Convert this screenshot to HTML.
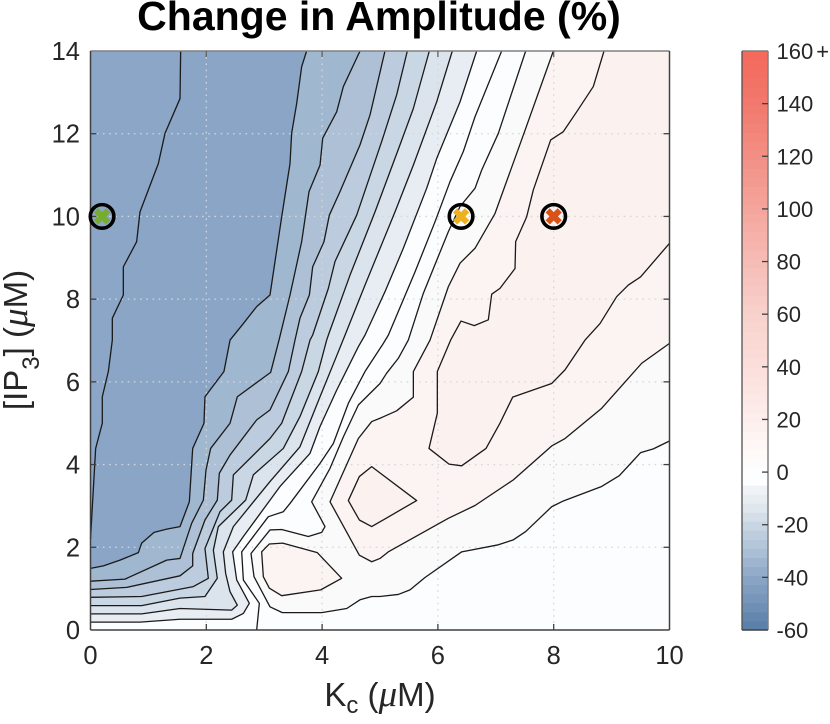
<!DOCTYPE html>
<html lang="en">
<head>
<meta charset="utf-8">
<title>Change in Amplitude (%)</title>
<style>
html,body{margin:0;padding:0;background:#fff;}
svg{display:block;font-family:"Liberation Sans",sans-serif;}
</style>
</head>
<body>
<svg id="chart" xmlns="http://www.w3.org/2000/svg" width="830" height="724" viewBox="0 0 830 724"></svg>
<script>
// Contour levels, each a list of [Kc, IP3] vertices
const levelM40 = [[1.557,14],[1.546,12.85],[1.287,12.01],[1.172,11.28],[0.855,10.11],[0.797,9.39],[0.567,8.78],[0.567,8.10],[0.377,7.54],[0.377,7.01],[0.308,6.25],[0.204,5.64],[0.204,5.00],[0.089,4.39],[0,2.2]];
const levelM35 = [[3.733,14],[3.647,13.62],[3.561,12.73],[3.474,12.01],[3.446,11.28],[3.302,9.99],[3.100,8.10],[2.87,7.82],[2.64,7.41],[2.41,7.01],[2.305,6.25],[1.977,5.64],[1.96,5.00],[1.765,4.39],[1.707,3.10],[1.546,2.50],[1.316,2.44],[1.097,2.36],[0.884,2.10],[0.826,1.87],[0.51,1.69],[0.222,1.55],[0,1.49]];
const levelM30 = [[4.655,14],[4.367,13.14],[4.252,12.53],[4.01,11.89],[3.964,11.24],[3.774,10.60],[3.647,9.39],[3.446,8.10],[3.256,7.01],[3.112,6.23],[2.536,5.64],[2.41,5.00],[2.075,4.39],[1.995,3.87],[1.949,3.14],[1.747,2.58],[1.546,1.73],[1.316,1.69],[0.596,1.23],[0,1.18]];
const levelM25 = [[5.086,14],[4.827,12.45],[4.655,11.73],[4.309,10.60],[4.125,10.03],[4.033,9.39],[3.837,8.78],[3.78,8.10],[3.618,7.54],[3.532,7.01],[3.417,6.25],[3.10,5.32],[2.87,5.08],[2.409,4.23],[2.225,3.79],[2.19,3.14],[1.977,2.66],[1.765,1.85],[1.765,1.55],[1.546,1.31],[0.625,1.03],[0,0.98]];
const levelM20 = [[5.472,14],[5.288,12.94],[5.029,11.81],[4.597,10.03],[4.223,8.91],[4.108,8.26],[3.837,7.13],[3.791,7.01],[3.647,6.25],[3.302,5.00],[3.10,4.63],[2.467,3.75],[2.438,3.14],[2.236,2.86],[1.977,1.97],[2.035,1.25],[1.776,1.05],[0.884,0.81],[0,0.79]];
const levelM15 = [[5.852,14],[5.576,12.61],[5.345,11.73],[4.914,10.11],[4.482,8.58],[4.108,7.13],[4.079,7.01],[3.935,6.25],[3.618,5.16],[3.33,4.39],[2.812,3.75],[2.68,3.14],[2.208,2.50],[2.122,1.93],[2.19,1.25],[1.977,0.81],[1.546,0.77],[0.884,0.59],[0,0.59]];
const levelM10 = [[6.249,14],[5.979,12.77],[5.576,11.24],[5.259,10.11],[4.741,8.34],[4.396,7.13],[4.223,6.53],[3.964,5.64],[3.618,4.43],[3.10,3.59],[2.467,2.50],[2.294,1.89],[2.334,1.37],[2.409,0.93],[2.536,0.60],[2.438,0.48],[1.546,0.52],[0.884,0.39],[0,0.39]];
const levelM5 = [[6.67,14],[6.382,12.77],[5.979,11.40],[5.806,10.68],[5.403,9.23],[5.086,8.18],[4.741,7.13],[4.626,6.85],[4.252,5.80],[3.964,4.92],[3.791,4.27],[3.273,3.47],[2.64,2.26],[2.455,1.89],[2.525,1.21],[2.743,0.645],[2.64,0.40],[2.438,0.26],[1.546,0.26],[0.855,0.19],[0,0.19]];
const level0 = [[7.101,14],[6.641,12.41],[6.439,11.57],[6.209,10.84],[5.95,9.87],[5.605,8.66],[5.144,7.13],[5.058,6.93],[4.741,6.25],[4.453,5.48],[4.194,4.51],[3.964,4.03],[3.446,3.06],[3.33,2.86],[3.071,2.74],[2.611,1.89],[2.64,1.21],[2.916,0.645],[2.87,0]];
const level5 = [[7.516,14],[7.044,12.01],[6.756,11.12],[6.641,10.68],[6.382,10.24],[6.18,9.63],[5.748,8.14],[5.489,7.01],[5.317,6.57],[5.115,6.21],[5.0,5.96],[4.626,5.44],[4.367,4.67],[4.137,3.91],[3.82,3.10],[4.05,2.50],[3.993,2.36],[3.762,2.26],[3.302,2.43],[3.10,2.42],[2.772,1.85],[2.824,1.29],[3.10,0.56],[3.313,0.42],[3.993,0.42],[4.425,0.52],[4.655,0.73],[4.857,0.81],[5.0,0.81],[5.317,0.86],[5.518,0.97],[5.777,1.27],[6.411,1.89],[7.044,2.06],[7.303,2.18],[7.516,2.38],[7.965,2.98],[8.166,3.12],[8.828,3.47],[9.133,3.73],[9.502,4.29],[9.721,4.38],[10,4.57]];
const level10 = [[7.994,14],[7.476,11.97],[6.986,10.07],[6.641,9.23],[6.382,8.87],[6.18,8.30],[5.864,7.01],[5.576,6.25],[5.576,5.63],[5.288,5.30],[5.0,5.12],[4.857,5.04],[4.626,4.63],[4.396,3.91],[4.137,3.10],[4.643,1.81],[4.857,1.65],[5.0,1.73],[5.144,1.89],[6.18,2.70],[6.641,3.01],[7.303,3.63],[7.965,4.45],[8.196,4.63],[8.828,5.36],[9.52,6.45],[10,6.93]];
const level15 = [[8.869,14],[8.684,13.14],[8.397,12.53],[8.166,12.05],[7.948,11.85],[7.648,10.64],[7.533,9.99],[7.343,9.39],[7.332,8.74],[7.072,8.26],[6.929,8.12],[6.871,7.50],[6.629,7.36],[6.399,7.47],[6.22,7.01],[5.99,6.25],[5.99,5.24],[5.846,4.39],[6.192,4.01],[6.41,3.97],[6.831,4.39],[7.072,5.00],[7.291,5.63],[7.965,5.96],[8.195,6.29],[8.541,7.01],[8.80,7.41],[9.087,8.06],[9.289,8.34],[9.502,8.54],[10,9.35]];
const island10 = [[2.956,1.89],[3.089,2.08],[3.319,2.10],[3.918,1.87],[4.338,1.25],[3.975,0.97],[3.302,0.83],[3.089,1.01],[2.985,1.29]];
const island15 = [[4.856,3.95],[5.633,3.13],[4.856,2.50],[4.643,2.66],[4.453,3.13],[4.643,3.71]];

const openLevels = [levelM40, levelM35, levelM30, levelM25, levelM20, levelM15, levelM10, levelM5, level0, level5, level10, level15];
const openLevelNames = ['-40','-35','-30','-25','-20','-15','-10','-5','0','5','10','15'];
const closedLevels = [island10, island15];
const closedLevelNames = ['10-island','15-island'];

// Band colours
const baseBandColor = '#8ba6c6';
const openBandColors = ['#8aa5c5','#a0b7d0','#adc0d6','#bccbdd','#c9d6e4','#dbe3ed','#e8edf3','#fcfdff','#fcfdff','#fafafa','#fcf4f2','#fbf2f0'];
const closedBandColors = ['#fcf4f2','#fbf2f0'];

// Marked parameter points
const markerKc = [0.2, 6.4, 8];
const markerIP3 = [10, 10, 10];
const markerColors = ['#77ac30','#edb120','#d95319'];

// Axis ticks
const xTicks = [0,2,4,6,8,10];
const yTicks = [0,2,4,6,8,10,12,14];
const cbTicks = [-60,-40,-20,0,20,40,60,80,100,120,140,160];
const cbTickLabels = ['-60','-40','-20','0','20','40','60','80','100','120','140','160'];

// Colour map stops
const cmapValues = [-60,-50,-40,-30,-20,-15,-10,-6,-5,0,5,20,40,60,80,100,120,140,160];
const cmapColors = ['#567ca8','#7392b6','#8ba6c6','#adc0d6','#c9d6e3','#dbe3ec','#e8edf2','#f0f3f7','#fdfeff','#fdfeff','#fffbfa','#fdefed','#fbdedb','#f8d2cd','#f6bcb6','#f4a59c','#f38f85','#f2786d','#f4695c'];

const NS = 'http://www.w3.org/2000/svg';
const svg = document.getElementById('chart');
const plot = {left:90.5, right:669.5, top:51, bottom:630};
const bar = {left:742, right:768, top:51, bottom:630};
const xScale = v => plot.left + (v - 0) / 10 * (plot.right - plot.left);
const yScale = v => plot.bottom - (v - 0) / 14 * (plot.bottom - plot.top);
const cbScale = v => bar.bottom - (v + 60) / 220 * (bar.bottom - bar.top);

function make(tag, attrs, parent){
  const el = document.createElementNS(NS, tag);
  for (const k in attrs) el.setAttribute(k, attrs[k]);
  (parent || svg).appendChild(el);
  return el;
}
function pathOf(pts){
  return pts.map((p,i)=>(i?'L':'M')+xScale(p[0]).toFixed(2)+' '+yScale(p[1]).toFixed(2)).join('');
}
function closeToUpperRight(pts){
  const end = pts[pts.length-1];
  const out = pts.slice();
  if (end[0] === 0) out.push([0,0],[10,0],[10,14]);
  else if (end[1] === 0) out.push([10,0],[10,14]);
  else out.push([10,14]);
  return out;
}

// Filled bands
const base = make('rect',{x:plot.left,y:plot.top,width:plot.right-plot.left,height:plot.bottom-plot.top,fill:baseBandColor});



openLevels.forEach((pts,i)=>{
  const band = make('path',{d:pathOf(closeToUpperRight(pts))+'Z',fill:openBandColors[i],stroke:'none'});
  
  
});
closedLevels.forEach((pts,i)=>{
  const band = make('path',{d:pathOf(pts)+'Z',fill:closedBandColors[i],stroke:'none'});
  
  
});

// Grid
xTicks.slice(1,-1).forEach(v=>{
  const g = make('line',{x1:xScale(v),x2:xScale(v),y1:plot.top,y2:plot.bottom,stroke:'#d4d8dc','stroke-width':1.3,'stroke-dasharray':'1.6 4.6'});
  
  
});
yTicks.slice(1,-1).forEach(v=>{
  const g = make('line',{x1:plot.left,x2:plot.right,y1:yScale(v),y2:yScale(v),stroke:'#d4d8dc','stroke-width':1.3,'stroke-dasharray':'1.6 4.6'});
  
  
});

// Contour lines
openLevels.forEach((pts,i)=>{
  const line = make('path',{d:pathOf(pts),fill:'none',stroke:'#1a1a1a','stroke-width':1.3,'stroke-linejoin':'round'});
  
  
});
closedLevels.forEach((pts,i)=>{
  const line = make('path',{d:pathOf(pts)+'Z',fill:'none',stroke:'#1a1a1a','stroke-width':1.3,'stroke-linejoin':'round'});
  
  
});

// Axes frame
const frameTop = make('line',{x1:plot.left,x2:plot.right,y1:plot.top,y2:plot.top,stroke:'#808080','stroke-width':1.5});


const frameRight = make('line',{x1:plot.right,x2:plot.right,y1:plot.top,y2:plot.bottom,stroke:'#404040','stroke-width':1.5});


const frameLeft = make('line',{x1:plot.left,x2:plot.left,y1:plot.top,y2:plot.bottom,stroke:'#404040','stroke-width':1.5});


const frameBottom = make('line',{x1:plot.left,x2:plot.right,y1:plot.bottom,y2:plot.bottom,stroke:'#404040','stroke-width':1.5});



// X ticks and labels
xTicks.forEach(v=>{
  if (v > 0 && v < 10) {
    const b = make('line',{x1:xScale(v),x2:xScale(v),y1:plot.bottom,y2:plot.bottom-6,stroke:'#404040','stroke-width':1.3});
    
    
    const t = make('line',{x1:xScale(v),x2:xScale(v),y1:plot.top,y2:plot.top+6,stroke:'#606060','stroke-width':1.3});
    
    
  }
  const label = make('text',{x:xScale(v),y:664,'text-anchor':'middle','font-size':25.5,fill:'#262626'});
  label.textContent = String(v);
  
  
});

// Y ticks and labels
yTicks.forEach(v=>{
  if (v > 0 && v < 14) {
    const l = make('line',{x1:plot.left,x2:plot.left+6,y1:yScale(v),y2:yScale(v),stroke:'#404040','stroke-width':1.3});
    
    
    const r = make('line',{x1:plot.right,x2:plot.right-6,y1:yScale(v),y2:yScale(v),stroke:'#404040','stroke-width':1.3});
    
    
  }
  const label = make('text',{x:80,y:yScale(v)+9,'text-anchor':'end','font-size':25.5,fill:'#262626'});
  label.textContent = String(v);
  
  
});

// Markers
markerKc.forEach((kc,i)=>{
  const cx = xScale(kc), cy = yScale(markerIP3[i]);
  const g = make('g',{});
  
  
  const a = make('line',{x1:cx-6,y1:cy-6,x2:cx+6,y2:cy+6,stroke:markerColors[i],'stroke-width':6},g);
  
  
  const b = make('line',{x1:cx-6,y1:cy+6,x2:cx+6,y2:cy-6,stroke:markerColors[i],'stroke-width':6},g);
  
  
  const c = make('circle',{cx:cx,cy:cy,r:11.8,fill:'none',stroke:'#000','stroke-width':3.6},g);
  
  
});

// Colorbar
function hexToRgb(h){return [parseInt(h.slice(1,3),16),parseInt(h.slice(3,5),16),parseInt(h.slice(5,7),16)];}
function cmap(v){
  for (let i=1;i<cmapValues.length;i++){
    if (v <= cmapValues[i]){
      const t=(v-cmapValues[i-1])/(cmapValues[i]-cmapValues[i-1]);
      const a=hexToRgb(cmapColors[i-1]), b=hexToRgb(cmapColors[i]);
      return 'rgb('+a.map((c,k)=>Math.round(c+(b[k]-c)*t)).join(',')+')';
    }
  }
  return cmapColors[cmapColors.length-1];
}
const cbGroup = make('g',{});


const bandCount = 64;
for (let i=0;i<bandCount;i++){
  const lo = -60 + 220*i/bandCount, hi = -60 + 220*(i+1)/bandCount;
  const r = make('rect',{x:bar.left,width:bar.right-bar.left,y:cbScale(hi),height:cbScale(lo)-cbScale(hi)+0.4,fill:cmap((lo+hi)/2)},cbGroup);
  
  
}
const cbFrameTop = make('line',{x1:bar.left,x2:bar.right,y1:bar.top,y2:bar.top,stroke:'#808080','stroke-width':1.5});


const cbFrameRight = make('line',{x1:bar.right,x2:bar.right,y1:bar.top,y2:bar.bottom,stroke:'#808080','stroke-width':1.5});


const cbFrameLeft = make('line',{x1:bar.left,x2:bar.left,y1:bar.top,y2:bar.bottom,stroke:'#505050','stroke-width':1.3});


const cbFrameBottom = make('line',{x1:bar.left,x2:bar.right,y1:bar.bottom,y2:bar.bottom,stroke:'#404040','stroke-width':1.5});


cbTicks.forEach((v,i)=>{
  if (i > 0 && i < cbTicks.length-1) {
    const t = make('line',{x1:bar.right,x2:bar.right-6,y1:cbScale(v),y2:cbScale(v),stroke:'#404040','stroke-width':1.3});
    
    
  }
  const label = make('text',{x:776.5,y:cbScale(v)+8,'font-size':22,fill:'#262626'});
  label.textContent = cbTickLabels[i];
  
  
  if (i === cbTicks.length-1) {
    const plus = make('tspan',{dx:3},label);
    plus.textContent = '+';
    
    
  }
});

// Title and axis labels
const title = make('text',{x:379,y:30,'text-anchor':'middle','font-size':41,'font-weight':'bold',fill:'#000'});
title.textContent = 'Change in Amplitude (%)';



function addMu(parent){
  const open = make('tspan',{},parent);
  open.textContent = ' (';
  
  
  const mu = make('tspan',{'font-family':'"Liberation Serif",serif','font-style':'italic','font-size':37},parent);
  mu.textContent = 'μ';
  
  
  const close = make('tspan',{},parent);
  close.textContent = 'M)';
  
  
}

const xLabel = make('text',{x:380,y:706,'text-anchor':'middle','font-size':33,fill:'#262626'});


const xK = make('tspan',{},xLabel);
xK.textContent = 'K';


const xSub = make('tspan',{dy:7,'font-size':24},xLabel);
xSub.textContent = 'c';


const xRest = make('tspan',{dy:-7},xLabel);


addMu(xRest);

const yLabel = make('text',{x:0,y:0,'text-anchor':'middle','font-size':33,fill:'#262626',transform:'translate(27,340) rotate(-90)'});


const yA = make('tspan',{},yLabel);
yA.textContent = '[IP';


const ySub = make('tspan',{dy:12,'font-size':24},yLabel);
ySub.textContent = '3';


const yB = make('tspan',{dy:-12},yLabel);
yB.textContent = ']';


const yRest = make('tspan',{},yLabel);


addMu(yRest);
</script>
</body>
</html>
